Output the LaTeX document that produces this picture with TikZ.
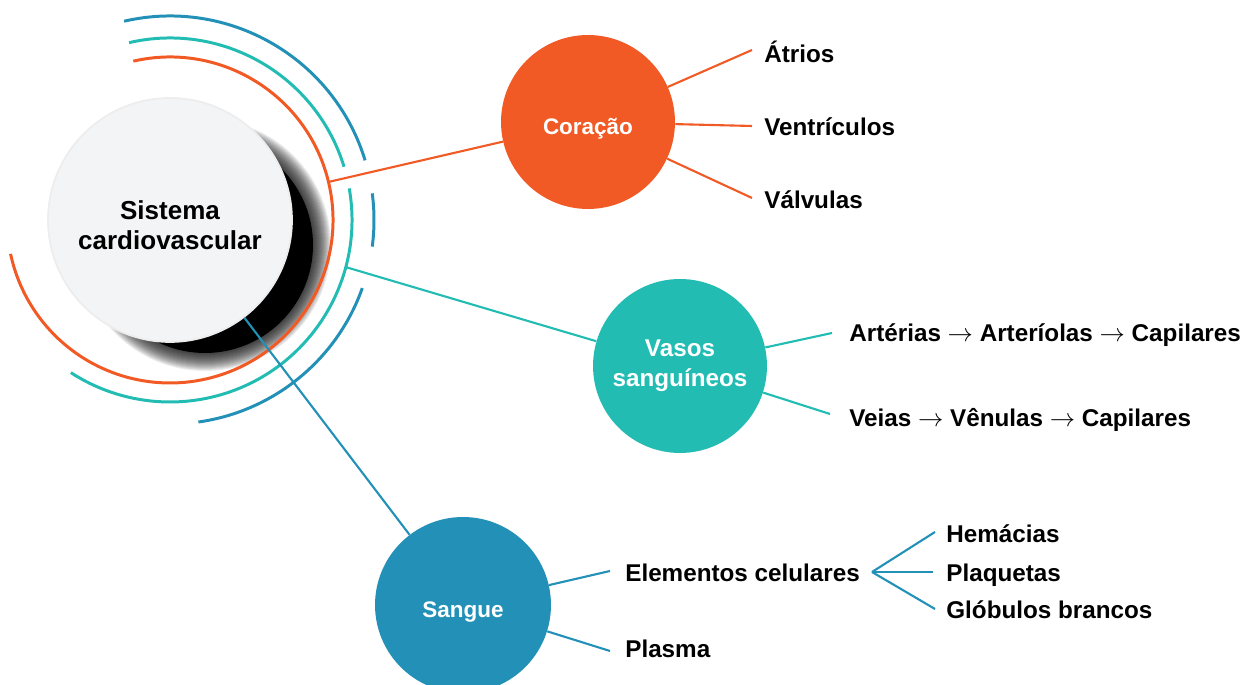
\documentclass[tikz,border=0pt]{standalone}
\usepackage{fontspec}
\setmainfont{Liberation Sans}
\usepackage{tikz}
\usepackage{xcolor}

\definecolor{heartorange}{HTML}{F15A24}
\definecolor{vesselteal}{HTML}{22BCB3}
\definecolor{bloodblue}{HTML}{2391B7}
\definecolor{hubgray}{HTML}{F3F4F5}

\begin{document}
\begin{tikzpicture}[x=0.02cm, y=0.02cm,
    hub/.style={circle, inner sep=0pt, minimum size=4.88cm, fill=hubgray, draw=black!7, line width=1pt},
    hubtext/.style={align=center, yshift=-0.1cm, font=\fontsize{14.8}{17}\selectfont\bfseries},
    bubble/.style={circle, inner sep=0pt, minimum size=3.48cm, text=white, align=center,
        font=\fontsize{12.8}{17}\selectfont\bfseries},
    lowtext/.style={text height=14.7pt, text depth=0pt},
    leaf/.style={anchor=base west, inner sep=0pt, font=\fontsize{13.8}{16}\selectfont\bfseries},
    ring/.style={line width=1.7pt},
    twig/.style={line width=1.2pt}]
            % Same page as the reference
            \useasboundingbox (0,0) rectangle (1252,685);
            \clip (0,0) rectangle (1252,685);

            % Soft shadow behind the hub
            \fill[black!90] (205,440) circle[radius=108];
            \foreach \k in {1,...,22}
                \fill[black, opacity=0.07] (205,440) circle[radius=104+\k];

            \node[hub, label={[hubtext]center:Sistema\\cardiovascular}] (hub) at (170,465) {};

            % Rings round the hub
            \draw[ring, heartorange] (hub.center) ++(103:163) arc[start angle=103, end angle=-168, radius=163];
            \draw[ring, vesselteal] (hub.center) ++(103:182) arc[start angle=103, end angle=17, radius=182];
            \draw[ring, vesselteal] (hub.center) ++(10:182) arc[start angle=10, end angle=-123, radius=182];
            \draw[ring, bloodblue] (hub.center) ++(103:204) arc[start angle=103, end angle=17, radius=204];
            \draw[ring, bloodblue] (hub.center) ++(7.5:204) arc[start angle=7.5, end angle=-7.5, radius=204];
            \draw[ring, bloodblue] (hub.center) ++(-19.5:204) arc[start angle=-19.5, end angle=-82, radius=204];

            % Main branches
            \node[bubble, lowtext, fill=heartorange] (cor) at (588,563) {Coração};
            \node[bubble, fill=vesselteal, font=\fontsize{13.8}{17}\selectfont\bfseries] (vas) at (680,319) {Vasos\\sanguíneos};
            \node[bubble, lowtext, fill=bloodblue, minimum size=3.52cm] (san) at (463,80) {Sangue};

            \path (hub.center) ++(13.5:163) coordinate (hubout1);
            \path (hub.center) ++(-15:182) coordinate (hubout2);
            \draw[twig, heartorange] (hubout1) -- (cor);
            \draw[twig, vesselteal] (hubout2) -- (vas);
            \draw[twig, bloodblue] (hub) -- (san);

            % Coração
            \coordinate (c1) at (752,635);
            \coordinate (c2) at (752,559);
            \coordinate (c3) at (752,487);
            \node[leaf] (atrios) at (764,622) {Átrios};
            \node[leaf] (ventr) at (764,549) {Ventrículos};
            \node[leaf] (valv) at (764,476.5) {Válvulas};
            \draw[twig, heartorange] (cor) -- (c1);
            \draw[twig, heartorange] (cor) -- (c2);
            \draw[twig, heartorange] (cor) -- (c3);

            % Vasos sanguíneos
            \coordinate (v1) at (832,352);
            \coordinate (v2) at (830,271);
            \node[leaf] (arter) at (849,343.5) {Artérias $\rightarrow$ Arteríolas $\rightarrow$ Capilares};
            \node[leaf] (veias) at (849,258.5) {Veias $\rightarrow$ Vênulas $\rightarrow$ Capilares};
            \draw[twig, vesselteal] (vas) -- (v1);
            \draw[twig, vesselteal] (vas) -- (v2);

            % Sangue
            \coordinate (s1) at (610,114);
            \coordinate (s2) at (610,34);
            \node[leaf] (elem) at (625,103.5) {Elementos celulares};
            \node[leaf] (plasma) at (625,27.5) {Plasma};
            \draw[twig, bloodblue] (san) -- (s1);
            \draw[twig, bloodblue] (san) -- (s2);

            \coordinate (fork) at (872,113);
            \coordinate (e1) at (935,153);
            \coordinate (e2) at (933,113);
            \coordinate (e3) at (935,76);
            \node[leaf] (hem) at (946,142.5) {Hemácias};
            \node[leaf] (plaq) at (946,103.5) {Plaquetas};
            \node[leaf] (glob) at (946,66.5) {Glóbulos brancos};
            \draw[twig, bloodblue] (fork) -- (e1);
            \draw[twig, bloodblue] (fork) -- (e2);
            \draw[twig, bloodblue] (fork) -- (e3);
        \end{tikzpicture}
\end{document}
